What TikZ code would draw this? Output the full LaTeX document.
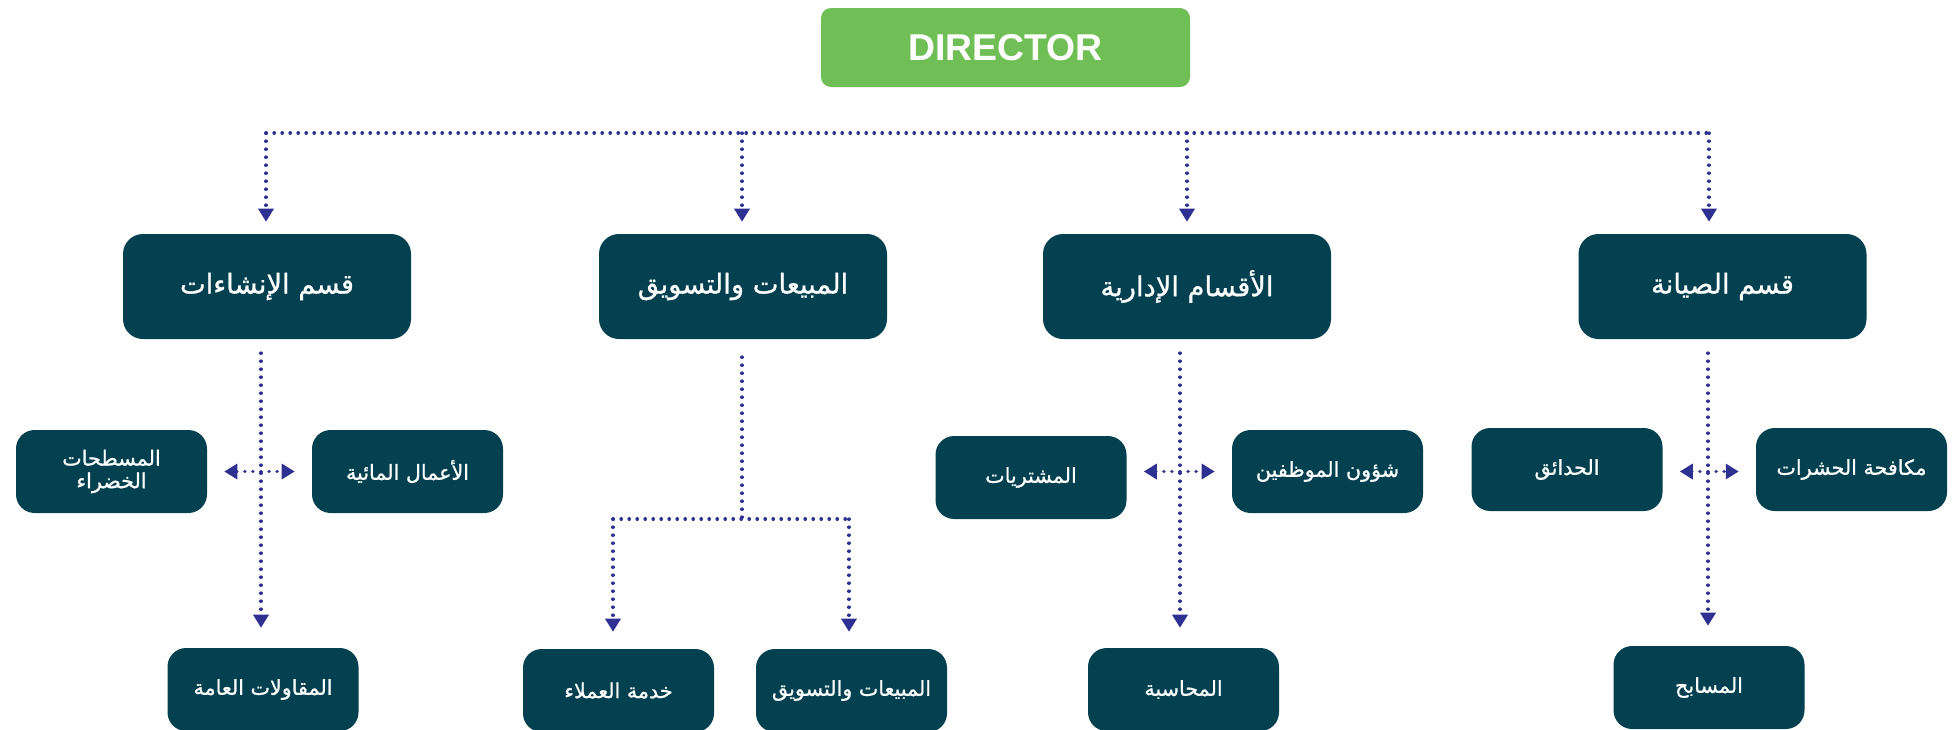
\documentclass[tikz,border=0pt]{standalone}
\usepackage{fontspec}
\setmainfont{Liberation Sans}
\newfontfamily\arabicfont[Script=Arabic,FakeBold=1]{DejaVu Sans}
\TeXXeTstate=1
\usetikzlibrary{arrows.meta}

\definecolor{boxteal}{RGB}{3,64,80}
\definecolor{dirgreen}{RGB}{111,191,86}
\definecolor{dotblue}{RGB}{46,49,146}

\tikzset{
  headbox/.style={fill=dirgreen, rounded corners=7.5pt, minimum width=276.75pt, minimum height=59.25pt,
    text=white, font=\fontsize{28}{32}\selectfont\bfseries},
  deptbox/.style={fill=boxteal, rounded corners=15pt, minimum width=216pt, minimum height=78.75pt,
    text=white, font=\arabicfont\fontsize{20.5}{24}\selectfont},
  unitbox/.style={fill=boxteal, rounded corners=14pt, minimum width=143.25pt, minimum height=62.25pt,
    text=white, font=\arabicfont\fontsize{15.5}{17}\selectfont, align=center},
  dotline/.style={draw=dotblue, line width=2.4pt, line cap=round, dash pattern=on 0.3pt off 5.7pt},
  dotarrow/.style={dotline, -{Triangle[width=11.25pt,length=9.75pt]}},
}

\begin{document}
\begin{tikzpicture}[x=0.75pt,y=0.75pt,yscale=-1,xscale=1]
        \useasboundingbox (0,0) rectangle (1953,729);
        \fill[white] (0,0) rectangle (1953,729);
        \clip (0,0) rectangle (1953,729);

        % Director
        \node[headbox] (dir) at (1005.5,47.5) {DIRECTOR};

        % Departments
        \node[deptbox] (m1) at (267,286.5) {\beginR قسم الإنشاءات\endR};
        \node[deptbox] (m2) at (743,286.5) {\beginR المبيعات والتسويق\endR};
        \node[deptbox] (m3) at (1187,286.5) {\beginR الأقسام الإدارية\endR};
        \node[deptbox] (m4) at (1722.5,286.5) {\beginR قسم الصيانة\endR};

        % Units: construction
        \node[unitbox] (c1l) at (111.5,471.5) {\beginR المسطحات\endR\\\beginR الخضراء\endR};
        \node[unitbox] (c1r) at (407.5,471.5) {\beginR الأعمال المائية\endR};
        \node[unitbox] (c1b) at (263,689.5) {\beginR المقاولات العامة\endR};
        % Units: sales
        \node[unitbox] (c2l) at (618.5,690.5) {\beginR خدمة العملاء\endR};
        \node[unitbox] (c2r) at (851.5,690.5) {\beginR المبيعات والتسويق\endR};
        % Units: administration
        \node[unitbox] (c3l) at (1031,477.5) {\beginR المشتريات\endR};
        \node[unitbox] (c3r) at (1327.5,471.5) {\beginR شؤون الموظفين\endR};
        \node[unitbox] (c3b) at (1183.5,689.5) {\beginR المحاسبة\endR};
        % Units: maintenance
        \node[unitbox] (c4l) at (1567,469.5) {\beginR الحدائق\endR};
        \node[unitbox] (c4r) at (1851.5,469.5) {\beginR مكافحة الحشرات\endR};
        \node[unitbox] (c4b) at (1709,687.5) {\beginR المسابح\endR};

        % Top bar
        \coordinate (t1) at (266,133);
        \coordinate (t2) at (742,133);
        \coordinate (t3) at (1187,133);
        \coordinate (t4) at (1709,133);
        \draw[dotline] (t1) -- (t4);
        \foreach \i in {1,...,4}
          \draw[dotarrow, shorten >=9pt] (t\i) -- (t\i |- m\i.north);

        % Construction column
        \coordinate (s1) at (261,353);
        \draw[dotarrow, shorten >=15pt] (s1) -- (s1 |- c1b.north);
        \coordinate (j1) at (261,471.5);
        \draw[dotarrow, shorten >=12.75pt] (j1) -- (j1 -| c1l.east);
        \draw[dotarrow, shorten >=12.75pt] (j1) -- (j1 -| c1r.west);

        % Sales column
        \coordinate (s2) at (742,357);
        \coordinate (k2) at (742,519);
        \coordinate (k2l) at (613,519);
        \coordinate (k2r) at (849,519);
        \draw[dotline] (s2) -- (k2);
        \draw[dotline] (k2l) -- (k2r);
        \draw[dotarrow, shorten >=12.75pt] (k2l) -- (k2l |- c2l.north);
        \draw[dotarrow, shorten >=12.75pt] (k2r) -- (k2r |- c2r.north);

        % Administration column
        \coordinate (s3) at (1180,353);
        \draw[dotarrow, shorten >=15pt] (s3) -- (s3 |- c3b.north);
        \coordinate (j3) at (1180,471.5);
        \draw[dotarrow, shorten >=12.75pt] (j3) -- (j3 -| c3l.east);
        \draw[dotarrow, shorten >=12.75pt] (j3) -- (j3 -| c3r.west);

        % Maintenance column
        \coordinate (s4) at (1708,353);
        \draw[dotarrow, shorten >=15pt] (s4) -- (s4 |- c4b.north);
        \coordinate (j4) at (1708,471.5);
        \draw[dotarrow, shorten >=12.75pt] (j4) -- (j4 -| c4l.east);
        \draw[dotarrow, shorten >=12.75pt] (j4) -- (j4 -| c4r.west);
\end{tikzpicture}
\end{document}
